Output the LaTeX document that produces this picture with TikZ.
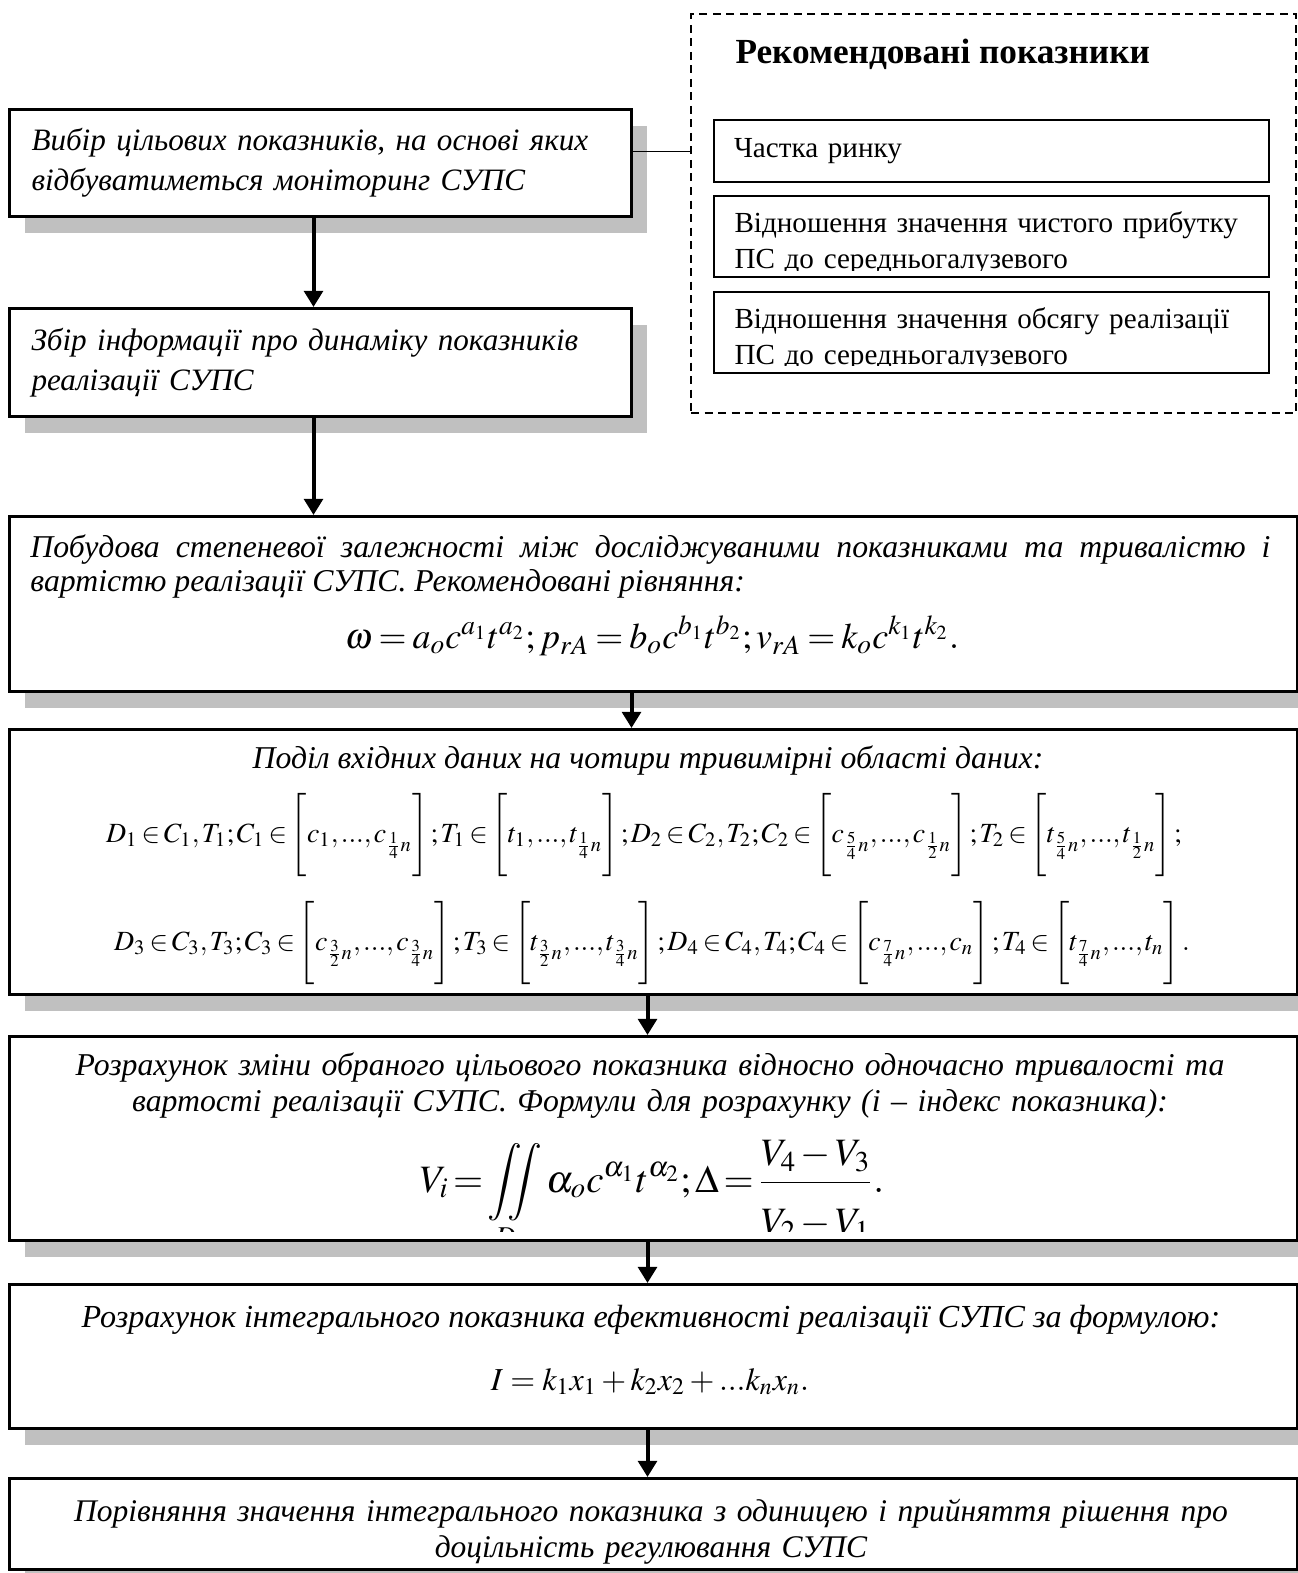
\documentclass[tikz,border=0pt]{standalone}
\usepackage{amsmath}
\usepackage{mathptmx}
\usepackage[no-math]{fontspec}
\setmainfont{Liberation Serif}
\usetikzlibrary{arrows.meta,shadows}

\definecolor{shadowgray}{RGB}{192,192,192}
\newcommand{\stepfont}{\itshape\fontsize{12.45}{16}\selectfont}
\newcommand{\itemfont}{\fontsize{11.65}{14.4}\selectfont}
\newcommand{\tightmath}{\thickmuskip=3mu\medmuskip=2.5mu\thinmuskip=2mu\relax}
\newcommand{\rowmath}{\thickmuskip=2.5mu\medmuskip=2mu\thinmuskip=1.5mu\relax}
\newcommand{\fracmath}{\thickmuskip=2mu\medmuskip=2mu\relax}
\newcommand{\seg}[1]{\left[\rule[-15pt]{0pt}{36pt}#1\right]}

\tikzset{
  stepbox/.style={draw, line width=1.2pt, fill=white, inner sep=0pt,
    drop shadow={shadow xshift=6pt, shadow yshift=-6.4pt, fill=shadowgray, opacity=1}},
  recobox/.style={draw, line width=0.8pt, dash pattern=on 3.2pt off 2.2pt, inner sep=0pt},
  itembox/.style={draw, line width=0.8pt, fill=white, inner sep=0pt, minimum width=222pt},
  flow/.style={line width=1.6pt, -{Triangle[length=6.5pt,width=7.5pt]}},
  link/.style={line width=0.6pt},
}

\begin{document}
\begin{tikzpicture}[x=0.4pt,y=-0.4pt]
  \useasboundingbox (0,0) rectangle (1298,1573);
  % left column
  \node[stepbox, anchor=north west, minimum width=248.8pt, minimum height=42.8pt, inner xsep=8.8pt, text width=231.2pt, align=left, font=\stepfont] (choose) at (8,108) {Вибір цільових показників, на основі яких\\відбуватиметься моніторинг СУПС};
  \node[stepbox, anchor=north west, minimum width=248.8pt, minimum height=43.2pt, inner xsep=8.8pt, text width=231.2pt, align=left, font=\stepfont] (survey) at (8,307) {Збір інформації про динаміку показників\\реалізації СУПС};
  % recommended indicators
  \node[recobox, anchor=north west, minimum width=242pt, minimum height=159.6pt] (reco) at (690,13) {};
  \node[anchor=base west, inner sep=0pt, font=\bfseries\fontsize{14.1}{16}\selectfont] (recotitle) at (735,63) {Рекомендовані показники};
  \node[itembox, anchor=north west, minimum height=24.8pt, inner xsep=8pt, text width=206pt, align=left, font=\itemfont] (share) at (713,119) {Частка ринку};
  \node[itembox, anchor=north west, minimum height=32.4pt] (profit) at (713,195) {};
  \node[itembox, anchor=north west, minimum height=32.4pt] (sales) at (713,291) {};
  \begin{scope}
    \clip (profit.north west) rectangle ([yshift=3.2pt]profit.south east);
    \node[anchor=base west, inner sep=0pt, text width=215pt, align=left, font=\itemfont] (profittxt) at (734,232) {Відношення значення чистого прибутку\\ПС до середньогалузевого};
  \end{scope}
  \begin{scope}
    \clip (sales.north west) rectangle ([yshift=3.6pt]sales.south east);
    \node[anchor=base west, inner sep=0pt, text width=215pt, align=left, font=\itemfont] (salestxt) at (734,328) {Відношення значення обсягу реалізації\\ПС до середньогалузевого};
  \end{scope}
  % power dependence
  \node[stepbox, anchor=north west, minimum width=515.2pt, minimum height=70pt] (build) at (8,515) {};
  \node[anchor=base west, inner sep=0pt, text width=496pt, align=justify, font=\itshape\fontsize{12.7}{13.6}\selectfont] (buildtxt) at (30,557) {Побудова степеневої залежності між досліджуваними показниками та тривалістю і\linebreak вартістю реалізації СУПС. Рекомендовані рівняння:};
  \node[anchor=base, inner sep=0pt, font=\fontsize{14.4}{17}\selectfont\tightmath] (buildeq) at (652,648) {$\omega = a_o c^{a_1} t^{a_2}; p_{rA} = b_o c^{b_1} t^{b_2}; v_{rA} = k_o c^{k_1} t^{k_2}.$};
  % four data domains
  \node[stepbox, anchor=north west, minimum width=515.2pt, minimum height=106pt] (split) at (8,728) {};
  \node[anchor=base, inner sep=0pt, font=\itshape\fontsize{12.7}{14}\selectfont] (splittxt) at (648,768) {Поділ вхідних даних на чотири тривимірні області даних:};
  \node[anchor=base, inner sep=0pt, font=\fontsize{11.1}{14}\selectfont\rowmath] (splitrow1) at (644,842) {$D_1 \in C_1, T_1; C_1 \in \seg{c_1, ..., c_{\frac{1}{4}n}}; T_1 \in \seg{t_1, ..., t_{\frac{1}{4}n}}; D_2 \in C_2, T_2; C_2 \in \seg{c_{\frac{5}{4}n}, ..., c_{\frac{1}{2}n}}; T_2 \in \seg{t_{\frac{5}{4}n}, ..., t_{\frac{1}{2}n}};$};
  \begin{scope}
    \clip (split.north west) rectangle ([yshift=4pt]split.south east);
    \node[anchor=base, inner sep=0pt, font=\fontsize{11.1}{14}\selectfont\rowmath] (splitrow2) at (652,950) {$D_3 \in C_3, T_3; C_3 \in \seg{c_{\frac{3}{2}n}, ..., c_{\frac{3}{4}n}}; T_3 \in \seg{t_{\frac{3}{2}n}, ..., t_{\frac{3}{4}n}}; D_4 \in C_4, T_4; C_4 \in \seg{c_{\frac{7}{4}n}, ..., c_n}; T_4 \in \seg{t_{\frac{7}{4}n}, ..., t_n}.$};
  \end{scope}
  % change of the target indicator
  \node[stepbox, anchor=north west, minimum width=515.2pt, minimum height=81.6pt] (change) at (8,1035) {};
  \node[anchor=base, inner sep=0pt, text width=500pt, align=center, font=\itshape\fontsize{12.7}{14.4}\selectfont] (changetxt) at (650,1075) {Розрахунок зміни обраного цільового показника відносно одночасно тривалості та\\вартості реалізації СУПС. Формули для розрахунку (і – індекс показника):};
  \begin{scope}
    \clip (change.north west) rectangle ([yshift=4.4pt]change.south east);
    \node[anchor=base, inner sep=0pt, font=\fontsize{15.5}{18}\selectfont\fracmath] (changeeq) at (652,1192) {$\displaystyle V_i = \iint\limits_D \alpha_o c^{\alpha_1} t^{\alpha_2}; \Delta = \frac{V_4 - V_3}{\rule{0pt}{1.2em}V_2 - V_1}.$};
  \end{scope}
  % integral indicator
  \node[stepbox, anchor=north west, minimum width=515.2pt, minimum height=57.6pt] (index) at (8,1283) {};
  \node[anchor=base, inner sep=0pt, font=\itshape\fontsize{12.85}{14}\selectfont] (indextxt) at (651,1327) {Розрахунок інтегрального показника ефективності реалізації СУПС за формулою:};
  \node[anchor=base, inner sep=0pt, font=\fontsize{12.8}{15}\selectfont] (indexeq) at (650,1390) {$I = k_1x_1 + k_2x_2 + ...k_nx_n.$};
  % decision
  \node[stepbox, anchor=north west, minimum width=515.2pt, minimum height=36.4pt] (decide) at (8,1477) {};
  \node[anchor=base, inner sep=0pt, text width=500pt, align=center, font=\itshape\fontsize{12.6}{14.4}\selectfont] (decidetxt) at (651,1521) {Порівняння значення інтегрального показника з одиницею і прийняття рішення про\\доцільність регулювання СУПС};
  % connectors
  \draw[link] ([yshift=4.6pt]choose.east) -- ([yshift=4.6pt]choose.east -| reco.west);
  \draw[flow] ([xshift=-2.8pt]choose.south) -- ([xshift=-2.8pt]choose.south |- survey.north);
  \draw[flow] ([xshift=-2.8pt]survey.south) -- ([xshift=-2.8pt]survey.south |- build.north);
  \draw[flow] ([xshift=-8.8pt]build.south) -- ([xshift=-8.8pt]build.south |- split.north);
  \draw[flow] ([xshift=-2.4pt]split.south) -- ([xshift=-2.4pt]split.south |- change.north);
  \draw[flow] ([xshift=-2.4pt]change.south) -- ([xshift=-2.4pt]change.south |- index.north);
  \draw[flow] ([xshift=-2.4pt]index.south) -- ([xshift=-2.4pt]index.south |- decide.north);
\end{tikzpicture}
\end{document}
